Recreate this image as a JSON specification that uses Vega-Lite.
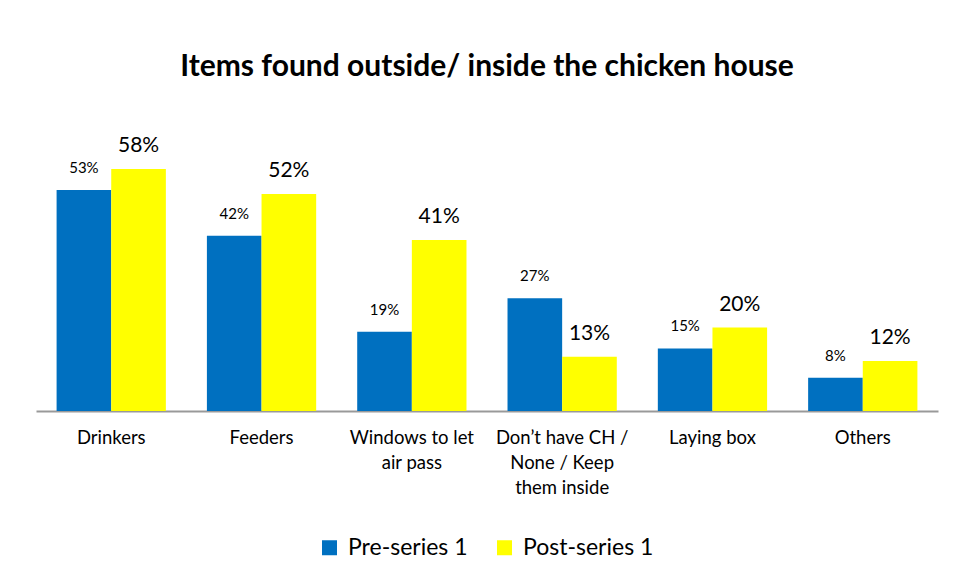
{
  "$schema": "https://vega.github.io/schema/vega-lite/v6.json",
  "width": 902,
  "height": 292,
  "padding": {"left": 36, "top": 52, "right": 18, "bottom": 10},
  "background": "white",
  "title": {
    "text": "Items found outside/ inside the chicken house",
    "font": "Lato",
    "fontSize": 30,
    "fontWeight": "bold",
    "color": "#000000",
    "anchor": "middle",
    "offset": 37
  },
  "config": {
    "view": {"stroke": null},
    "font": "Lato"
  },
  "data": {
    "values": [
      {"item": "Drinkers", "series": "Pre-series 1", "value": 0.53},
      {"item": "Drinkers", "series": "Post-series 1", "value": 0.58},
      {"item": "Feeders", "series": "Pre-series 1", "value": 0.42},
      {"item": "Feeders", "series": "Post-series 1", "value": 0.52},
      {"item": "Windows to let air pass", "series": "Pre-series 1", "value": 0.19},
      {"item": "Windows to let air pass", "series": "Post-series 1", "value": 0.41},
      {"item": "Don’t have CH / None / Keep them inside", "series": "Pre-series 1", "value": 0.27},
      {"item": "Don’t have CH / None / Keep them inside", "series": "Post-series 1", "value": 0.13},
      {"item": "Laying box", "series": "Pre-series 1", "value": 0.15},
      {"item": "Laying box", "series": "Post-series 1", "value": 0.20},
      {"item": "Others", "series": "Pre-series 1", "value": 0.08},
      {"item": "Others", "series": "Post-series 1", "value": 0.12}
    ]
  },
  "encoding": {
    "x": {
      "field": "item",
      "type": "nominal",
      "sort": null,
      "scale": {"paddingInner": 0.273, "paddingOuter": 0.137},
      "axis": {
        "title": null,
        "labelAngle": 0,
        "labelFont": "Lato",
        "labelFontSize": 18.5,
        "labelColor": "#000000",
        "labelPadding": 17,
        "labelLineHeight": 25,
        "ticks": false,
        "domainColor": "#999999",
        "domainWidth": 2,
        "labelExpr": "datum.label == 'Windows to let air pass' ? ['Windows to let', 'air pass'] : datum.label == 'Don’t have CH / None / Keep them inside' ? ['Don’t have CH /', 'None / Keep', 'them inside'] : datum.label"
      }
    },
    "xOffset": {"field": "series", "type": "nominal", "sort": ["Pre-series 1", "Post-series 1"], "scale": {"paddingInner": 0, "paddingOuter": 0}},
    "y": {
      "field": "value",
      "type": "quantitative",
      "scale": {"domain": [0, 0.7]},
      "axis": null
    }
  },
  "layer": [
    {
      "mark": {"type": "bar"},
      "encoding": {
        "color": {
          "field": "series",
          "type": "nominal",
          "sort": ["Pre-series 1", "Post-series 1"],
          "scale": {"domain": ["Pre-series 1", "Post-series 1"], "range": ["#0070C0", "#FFFF00"]},
          "legend": {
            "title": null,
            "orient": "none",
            "legendX": 282,
            "legendY": 417,
            "direction": "horizontal",
            "symbolType": "square",
            "symbolSize": 225,
            "symbolStrokeWidth": 0,
            "labelFont": "Lato",
            "labelFontSize": 23,
            "labelColor": "#000000",
            "labelOffset": 7,
            "columnPadding": 25
          }
        }
      }
    },
    {
      "transform": [{"filter": "datum.series == 'Pre-series 1'"}],
      "mark": {"type": "text", "baseline": "alphabetic", "dy": -17, "color": "#000000", "font": "Lato", "fontSize": 15},
      "encoding": {
        "text": {"field": "value", "type": "quantitative", "format": ".0%"}
      }
    },
    {
      "transform": [{"filter": "datum.series == 'Post-series 1'"}],
      "mark": {"type": "text", "baseline": "alphabetic", "dy": -17, "color": "#000000", "font": "Lato", "fontSize": 21},
      "encoding": {
        "text": {"field": "value", "type": "quantitative", "format": ".0%"}
      }
    }
  ]
}
